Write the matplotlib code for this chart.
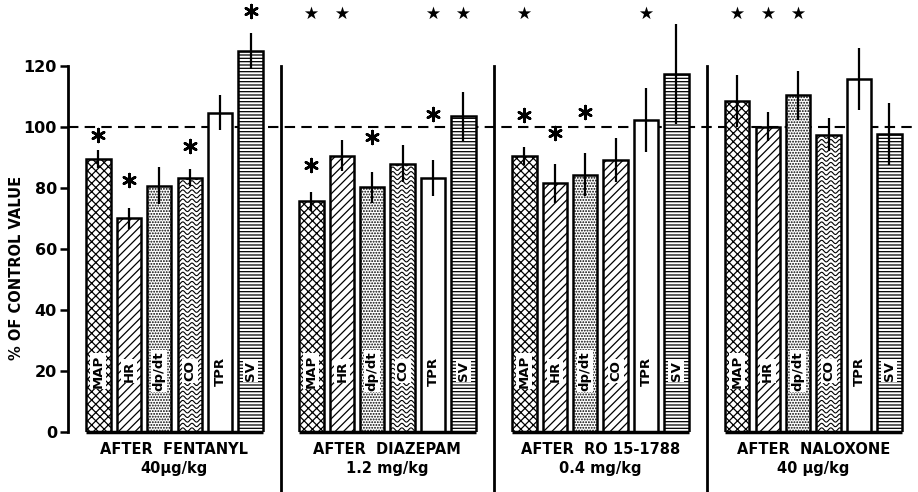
import matplotlib
matplotlib.use('Agg')
import matplotlib.pyplot as plt
import numpy as np

plt.rcParams['font.family'] = ['DejaVu Sans']
plt.rcParams['font.weight'] = 'bold'
plt.rcParams['hatch.linewidth'] = 0.9

params = ['MAP', 'HR', 'dp/dt', 'CO', 'TPR', 'SV']
groups = ['AFTER  FENTANYL', 'AFTER  DIAZEPAM', 'AFTER  RO 15-1788', 'AFTER  NALOXONE']
doses = ['40μg/kg', '1.2 mg/kg', '0.4 mg/kg', '40 μg/kg']

# % of control value, one row per group (MAP, HR, dp/dt, CO, TPR, SV)
means = [[89.4, 70.0, 80.7, 83.4, 104.7, 124.9],
         [75.6, 90.6, 80.2, 88.0, 83.2, 103.5],
         [90.4, 81.5, 84.4, 89.2, 102.3, 117.4],
         [108.5, 100.1, 110.3, 97.5, 115.6, 97.8]]
errs = [[3.0, 3.3, 6.0, 2.8, 5.6, 5.8],
        [3.0, 5.0, 5.0, 6.0, 6.0, 8.0],
        [3.0, 6.3, 7.0, 7.3, 10.5, 16.3],
        [8.5, 4.7, 8.0, 5.3, 10.2, 10.2]]

# significance marks: (group, parameter, height)
asterisks = [(0, 0, 97.4), (0, 1, 82.6), (0, 3, 93.8), (0, 5, 138.0),
             (1, 0, 87.5), (1, 2, 96.7), (1, 4, 104.3),
             (2, 0, 103.9), (2, 1, 98.0), (2, 2, 104.9)]
stars = [(1, 0), (1, 1), (1, 4), (1, 5), (2, 0), (2, 4), (3, 0), (3, 1), (3, 2)]
star_y = 137.5

hatches = ['xxxx', '////', '......', 'wave', '', '-----']
gap = 7
width = 0.8

fig = plt.figure(figsize=(9.18, 4.92), dpi=100)
ax = fig.add_axes([68 / 918, 1 - 432 / 492, 850 / 918, 432 / 492])
ax.set_xlim(-1, 26.94)
ax.set_ylim(0, 141.6)

ax.axhline(100, color='k', lw=1.5, ls=(0, (5, 3)), zorder=1)

for g in range(len(groups)):
    xs = g * gap + np.arange(len(params))
    hs = list(hatches)
    if g == 2:
        hs[3] = '////'  # printed with diagonal lines in this panel
    for i, x in enumerate(xs):
        h = hs[i]
        bar = ax.bar(x, means[g][i], width=width, facecolor='white', edgecolor='k',
                     lw=1.8, hatch=None if h in ('', 'wave') else h, zorder=2)[0]
        if h == 'wave':
            wx = np.linspace(x - width / 2, x + width / 2, 80)
            for y0 in np.arange(0.8, means[g][i], 1.5):
                ln, = ax.plot(wx, y0 + 0.55 * np.sin(2 * np.pi * wx / 0.3),
                              color='k', lw=0.8, zorder=2.5)
                ln.set_clip_path(bar)
        ax.text(x, 20, params[i], rotation=90, ha='center', va='center', fontsize=9.5,
                zorder=5, bbox=dict(fc='white', ec='none', pad=1.0))
    ax.errorbar(xs, means[g], yerr=errs[g], fmt='none', ecolor='k', elinewidth=1.6,
                capsize=0, zorder=3)
    ax.plot([xs[0] - width / 2, xs[-1] + width / 2], [0, 0], color='k', lw=2.5,
            solid_capstyle='butt', clip_on=False, zorder=4)
    if g < len(groups) - 1:
        ax.plot([g * gap + 6] * 2, [120, -20], color='k', lw=2, clip_on=False, zorder=4)
    cx = g * gap + 2.5
    ax.text(cx, -5.9, groups[g], ha='center', va='center', fontsize=10.5, clip_on=False)
    ax.text(cx, -11.8, doses[g], ha='center', va='center', fontsize=10.5, clip_on=False)

for g, i, y in asterisks:
    ax.scatter(g * gap + i, y, marker=(6, 2, 0), s=85, linewidths=1.9, color='k', zorder=6)
sx = [g * gap + i for g, i in stars]
ax.scatter(sx, [star_y] * len(sx), marker='*', s=100, color='k', lw=0, zorder=6)

for s in ['top', 'right', 'bottom']:
    ax.spines[s].set_visible(False)
ax.spines['left'].set_bounds(0, 120)
ax.spines['left'].set_linewidth(2)
ax.set_xticks([])
ax.set_yticks(range(0, 121, 20))
ax.tick_params(axis='y', length=6, width=1.8, labelsize=11.5, pad=2)
ax.set_ylabel('% OF CONTROL VALUE', fontsize=10.5, fontweight='bold')
ax.yaxis.set_label_coords(-0.052, 0.38)

fig.savefig('out.png', dpi=100)
